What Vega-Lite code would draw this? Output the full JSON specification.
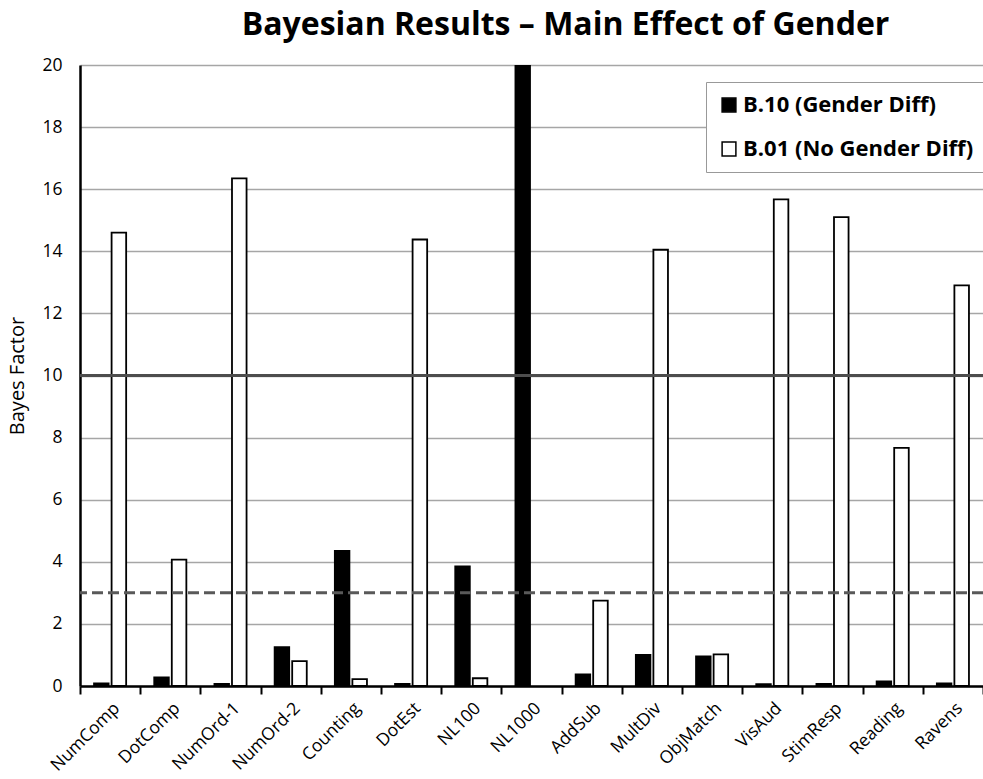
{
  "$schema": "https://vega.github.io/schema/vega-lite/v6.json",
  "autosize": {"type": "none"},
  "width": 903,
  "height": 621,
  "padding": {"left": 80, "top": 65, "right": 0, "bottom": 93},
  "background": "white",
  "title": {
    "text": "Bayesian Results – Main Effect of Gender",
    "font": "Open Sans",
    "fontSize": 32,
    "fontWeight": "bold",
    "color": "black",
    "anchor": "middle",
    "dx": 34,
    "offset": 14
  },
  "config": {
    "view": {"stroke": null},
    "font": "Open Sans"
  },
  "layer": [
    {
      "data": {
        "values": [
          {"task": "NumComp", "series": "B.10 (Gender Diff)", "value": 0.08},
          {"task": "NumComp", "series": "B.01 (No Gender Diff)", "value": 14.6},
          {"task": "DotComp", "series": "B.10 (Gender Diff)", "value": 0.28},
          {"task": "DotComp", "series": "B.01 (No Gender Diff)", "value": 4.07},
          {"task": "NumOrd-1", "series": "B.10 (Gender Diff)", "value": 0.07},
          {"task": "NumOrd-1", "series": "B.01 (No Gender Diff)", "value": 16.35},
          {"task": "NumOrd-2", "series": "B.10 (Gender Diff)", "value": 1.25},
          {"task": "NumOrd-2", "series": "B.01 (No Gender Diff)", "value": 0.8},
          {"task": "Counting", "series": "B.10 (Gender Diff)", "value": 4.35},
          {"task": "Counting", "series": "B.01 (No Gender Diff)", "value": 0.22},
          {"task": "DotEst", "series": "B.10 (Gender Diff)", "value": 0.07},
          {"task": "DotEst", "series": "B.01 (No Gender Diff)", "value": 14.38},
          {"task": "NL100", "series": "B.10 (Gender Diff)", "value": 3.85},
          {"task": "NL100", "series": "B.01 (No Gender Diff)", "value": 0.25},
          {"task": "NL1000", "series": "B.10 (Gender Diff)", "value": 20},
          {"task": "AddSub", "series": "B.10 (Gender Diff)", "value": 0.37},
          {"task": "AddSub", "series": "B.01 (No Gender Diff)", "value": 2.75},
          {"task": "MultDiv", "series": "B.10 (Gender Diff)", "value": 1.0},
          {"task": "MultDiv", "series": "B.01 (No Gender Diff)", "value": 14.05},
          {"task": "ObjMatch", "series": "B.10 (Gender Diff)", "value": 0.95},
          {"task": "ObjMatch", "series": "B.01 (No Gender Diff)", "value": 1.02},
          {"task": "VisAud", "series": "B.10 (Gender Diff)", "value": 0.06},
          {"task": "VisAud", "series": "B.01 (No Gender Diff)", "value": 15.67},
          {"task": "StimResp", "series": "B.10 (Gender Diff)", "value": 0.07},
          {"task": "StimResp", "series": "B.01 (No Gender Diff)", "value": 15.1},
          {"task": "Reading", "series": "B.10 (Gender Diff)", "value": 0.15},
          {"task": "Reading", "series": "B.01 (No Gender Diff)", "value": 7.67},
          {"task": "Ravens", "series": "B.10 (Gender Diff)", "value": 0.08},
          {"task": "Ravens", "series": "B.01 (No Gender Diff)", "value": 12.9}
        ]
      },
      "mark": {"type": "bar", "stroke": "black", "strokeWidth": 1.8, "clip": true},
      "encoding": {
        "x": {
          "field": "task",
          "type": "nominal",
          "sort": null,
          "scale": {"paddingInner": 0, "paddingOuter": 0},
          "axis": {
            "title": null,
            "labelAngle": -45,
            "labelFont": "Open Sans",
            "labelFontSize": 17.5,
            "labelColor": "black",
            "labelPadding": 5,
            "tickBand": "extent",
            "tickSize": 8,
            "tickColor": "black",
            "tickWidth": 2,
            "domainColor": "black",
            "domainWidth": 2.5,
            "grid": false
          }
        },
        "xOffset": {
          "field": "series",
          "type": "nominal",
          "sort": ["B.10 (Gender Diff)", "B.01 (No Gender Diff)"],
          "scale": {"domain": ["B.10 (Gender Diff)", "B.01 (No Gender Diff)"], "paddingInner": 0.17, "paddingOuter": 0.8}
        },
        "y": {
          "field": "value",
          "type": "quantitative",
          "scale": {"domain": [0, 20], "nice": false},
          "axis": {
            "title": "Bayes Factor",
            "titleFont": "Open Sans",
            "titleFontSize": 20,
            "titleFontWeight": "normal",
            "titleColor": "black",
            "titlePadding": 14,
            "values": [0, 2, 4, 6, 8, 10, 12, 14, 16, 18, 20],
            "labelFont": "Open Sans",
            "labelFontSize": 17.5,
            "labelColor": "black",
            "labelPadding": 18,
            "ticks": false,
            "domainColor": "black",
            "domainWidth": 2.5,
            "grid": true,
            "gridColor": "#a6a6a6",
            "gridWidth": 1.5
          }
        },
        "color": {
          "field": "series",
          "type": "nominal",
          "sort": ["B.10 (Gender Diff)", "B.01 (No Gender Diff)"],
          "scale": {"domain": ["B.10 (Gender Diff)", "B.01 (No Gender Diff)"], "range": ["black", "white"]},
          "legend": {
            "title": null,
            "orient": "none",
            "legendX": 626,
            "legendY": 17,
            "fillColor": "white",
            "strokeColor": "#999999",
            "padding": 12,
            "rowPadding": 22,
            "symbolType": "square",
            "symbolSize": 190,
            "symbolStrokeColor": "black",
            "symbolStrokeWidth": 1.5,
            "labelFont": "Open Sans",
            "labelFontSize": 22,
            "labelFontWeight": "bold",
            "labelColor": "black",
            "labelLimit": 320,
            "labelOffset": 3
          }
        }
      }
    },
    {
      "data": {"values": [{"level": 10, "kind": "strong"}]},
      "mark": {"type": "rule", "color": "#4d4d4d", "strokeWidth": 3},
      "encoding": {"y": {"field": "level", "type": "quantitative"}}
    },
    {
      "data": {"values": [{"level": 3, "kind": "moderate"}]},
      "mark": {"type": "rule", "color": "#595959", "strokeWidth": 3, "strokeDash": [11, 5]},
      "encoding": {"y": {"field": "level", "type": "quantitative"}}
    }
  ]
}
